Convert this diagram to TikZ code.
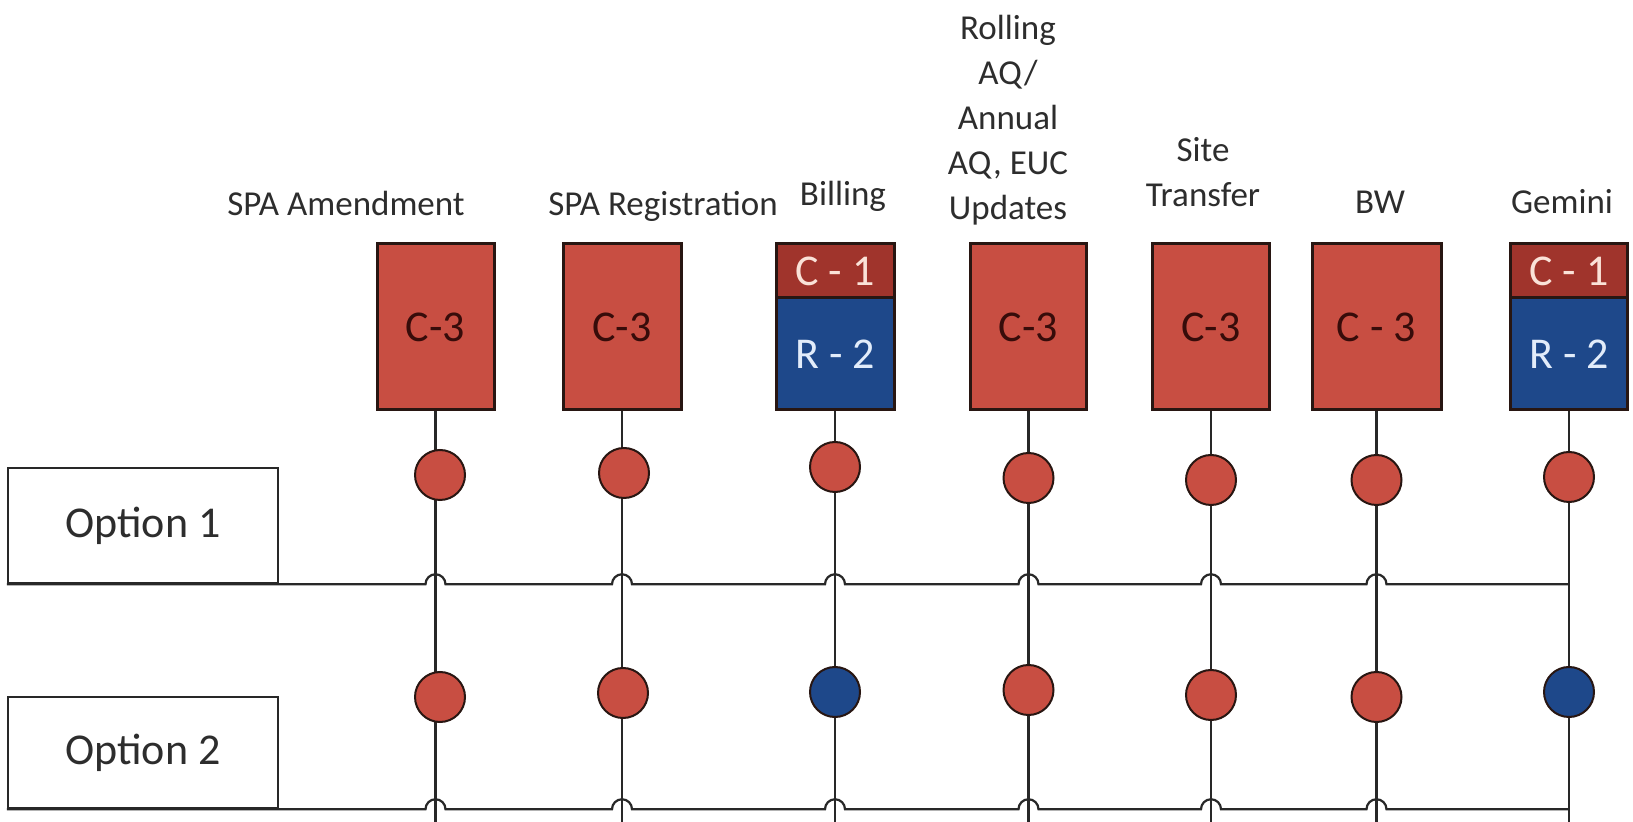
\documentclass[tikz,border=0pt]{standalone}
\usepackage{fontspec}
\setmainfont{Carlito}
\usetikzlibrary{calc,backgrounds}
\definecolor{redC}{RGB}{200,78,66}
\definecolor{darkredC}{RGB}{160,52,44}
\definecolor{blueC}{RGB}{30,72,138}
\definecolor{edgeC}{RGB}{40,22,18}
\definecolor{lineC}{RGB}{40,40,40}
\definecolor{labelC}{RGB}{45,45,45}
\definecolor{darkT}{RGB}{55,12,10}
\definecolor{pinkT}{RGB}{250,226,216}
\definecolor{paleT}{RGB}{226,236,250}
\begin{document}
\begin{tikzpicture}[x=0.5pt,y=-0.5pt,
  lbl/.style={font=\fontsize{17.5}{22.5}\selectfont, text=labelC, align=center, inner sep=0pt},
  boxbase/.style={draw=edgeC, line width=1.5pt, inner sep=0pt, font=\fontsize{22}{26}\selectfont},
  cbox/.style={boxbase, fill=redC, text=darkT, minimum width=#1, minimum height=83pt},
  topbox/.style={boxbase, fill=darkredC, text=pinkT, minimum width=#1, minimum height=27pt},
  botbox/.style={boxbase, fill=blueC, text=paleT, minimum width=#1, minimum height=56pt},
  rdot/.style={circle, draw=edgeC, line width=1pt, fill=redC, minimum size=25pt, inner sep=0pt},
  bdot/.style={circle, draw=edgeC, line width=1pt, fill=blueC, minimum size=25pt, inner sep=0pt},
  optbox/.style={draw=lineC, line width=1.25pt, fill=white, minimum width=135pt, inner sep=0pt, font=\fontsize{22}{26}\selectfont, text=labelC},
  conn/.style={draw=lineC, line width=1.1pt},
]
\useasboundingbox (0,0) rectangle (1633,822);
\coordinate (bot) at (0,822);

% labels
\node[lbl, anchor=base] (l1) at (346,216) {SPA Amendment};
\node[lbl, anchor=base] (l2) at (663,216) {SPA Registration};
\node[lbl, anchor=base] (l3) at (843,206) {Billing};
\node[lbl, anchor=base] (l4) at (1008,220) {Rolling\\AQ/\\Annual\\AQ, EUC\\Updates};
\node[lbl, anchor=base] (l5) at (1203,207) {Site\\Transfer};
\node[lbl, anchor=base] (l6) at (1380,214) {BW};
\node[lbl, anchor=base] (l7) at (1562,214) {Gemini};

% boxes
\node[cbox=58.5pt] (b1) at (435.5,327) {C-3};
\node[cbox=59pt] (b2) at (622,327) {C-3};
\node[topbox=59pt] (b3t) at (835,271) {C - 1};
\node[botbox=59pt] (b3) at (835,354) {R - 2};
\node[cbox=58pt] (b4) at (1028.5,327) {C-3};
\node[cbox=58.5pt] (b5) at (1211,327) {C-3};
\node[cbox=64.5pt] (b6) at (1376.5,327) {C - 3};
\node[topbox=58.5pt] (b7t) at (1569,271) {C - 1};
\node[botbox=58.5pt] (b7) at (1569,354) {R - 2};

% option boxes
\node[optbox, minimum height=57.5pt] (o1) at (143,525.5) {Option 1};
\node[optbox, minimum height=55.5pt] (o2) at (143,752.5) {Option 2};

% circles row 1
\node[rdot] (p1a) at (440,475) {};
\node[rdot] (p2a) at (624,473) {};
\node[rdot] (p3a) at (835,467) {};
\node[rdot] (p4a) at (1028.5,478) {};
\node[rdot] (p5a) at (1211,480) {};
\node[rdot] (p6a) at (1376.5,480) {};
\node[rdot] (p7a) at (1569,477) {};
% circles row 2
\node[rdot] (p1b) at (440,697) {};
\node[rdot] (p2b) at (623,693) {};
\node[bdot] (p3b) at (835,692) {};
\node[rdot] (p4b) at (1028.5,690) {};
\node[rdot] (p5b) at (1211,695) {};
\node[rdot] (p6b) at (1376.5,697) {};
\node[bdot] (p7b) at (1569,692) {};

\begin{pgfonlayer}{background}
  \foreach \b in {b1,b2,b3,b4,b5,b6,b7}{
    \draw[conn] (\b.south) -- (\b.south |- bot);
  }
  \draw[conn] (o1.south west)
    foreach \b in {b1,b2,b3,b4,b5,b6}{ -- ($(\b.south |- o1.south)+(-10,0)$) arc[start angle=180,end angle=0,radius=5pt] }
    -- (b7.south |- o1.south);
  \draw[conn] (o2.south west)
    foreach \b in {b1,b2,b3,b4,b5,b6}{ -- ($(\b.south |- o2.south)+(-10,0)$) arc[start angle=180,end angle=0,radius=5pt] }
    -- (b7.south |- o2.south);
\end{pgfonlayer}
\end{tikzpicture}
\end{document}
